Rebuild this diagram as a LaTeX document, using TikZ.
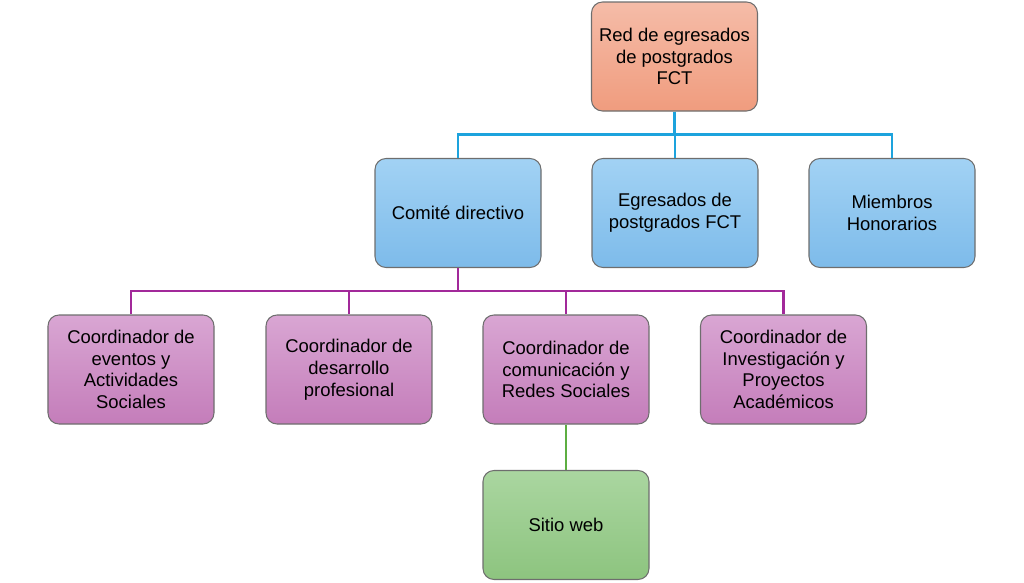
\documentclass[tikz,border=0pt]{standalone}
\usepackage{fontspec}
\setmainfont{Liberation Sans}
\usetikzlibrary{positioning}

\definecolor{redtop}{HTML}{F5BCA8}
\definecolor{redbot}{HTML}{F09C7E}
\definecolor{bluetop}{HTML}{A2D2F4}
\definecolor{bluebot}{HTML}{7DBBEA}
\definecolor{purptop}{HTML}{D9A6D3}
\definecolor{purpbot}{HTML}{C47DBA}
\definecolor{greentop}{HTML}{AAD6A0}
\definecolor{greenbot}{HTML}{8DC47F}
\definecolor{bluelink}{HTML}{1DA3DD}
\definecolor{purplink}{HTML}{A2299A}
\definecolor{greenlink}{HTML}{5DAE42}
\definecolor{edge}{HTML}{6E6E6E}

\tikzset{
  box/.style={draw=edge, line width=0.6pt, rounded corners=0.22cm,
    minimum width=3.32cm, minimum height=2.18cm,
    align=center, font=\fontsize{10.5}{12.4}\selectfont},
  redbox/.style={box, top color=redtop, bottom color=redbot},
  bluebox/.style={box, top color=bluetop, bottom color=bluebot},
  purpbox/.style={box, top color=purptop, bottom color=purpbot},
  greenbox/.style={box, top color=greentop, bottom color=greenbot},
}

\begin{document}
\begin{tikzpicture}
  \useasboundingbox (0,0) rectangle (20.48,-11.66);

  % top of the network
  \node[redbox] (red) at (13.49,-1.13) {Red de egresados\\de postgrados\\FCT};

  % second level
  \node[bluebox] (comite) at (9.16,-4.26) {Comit\'e directivo};
  \node[bluebox] (egresados) at (13.5,-4.26) {Egresados de\\postgrados FCT};
  \node[bluebox] (miembros) at (17.84,-4.26) {Miembros\\Honorarios};

  % coordinators
  \node[purpbox] (eventos) at (2.62,-7.39) {Coordinador de\\eventos y\\Actividades\\Sociales};
  \node[purpbox] (desarrollo) at (6.98,-7.39) {Coordinador de\\desarrollo\\profesional};
  \node[purpbox] (comunicacion) at (11.32,-7.39) {Coordinador de\\comunicaci\'on y\\Redes Sociales};
  \node[purpbox] (investigacion) at (15.67,-7.39) {Coordinador de\\Investigaci\'on y\\Proyectos\\Acad\'emicos};

  % web site
  \node[greenbox] (web) at (11.32,-10.5) {Sitio web};

  % connectors
  \foreach \n in {comite,egresados,miembros}
    \draw[bluelink, line width=1.7pt] (red.south) -- ++(0,-0.46) -| (\n.north);
  \foreach \n in {eventos,desarrollo,comunicacion,investigacion}
    \draw[purplink, line width=1.4pt] (comite.south) -- ++(0,-0.46) -| (\n.north);
  \draw[greenlink, line width=1.3pt] (comunicacion.south) -- (web.north);
\end{tikzpicture}
\end{document}
